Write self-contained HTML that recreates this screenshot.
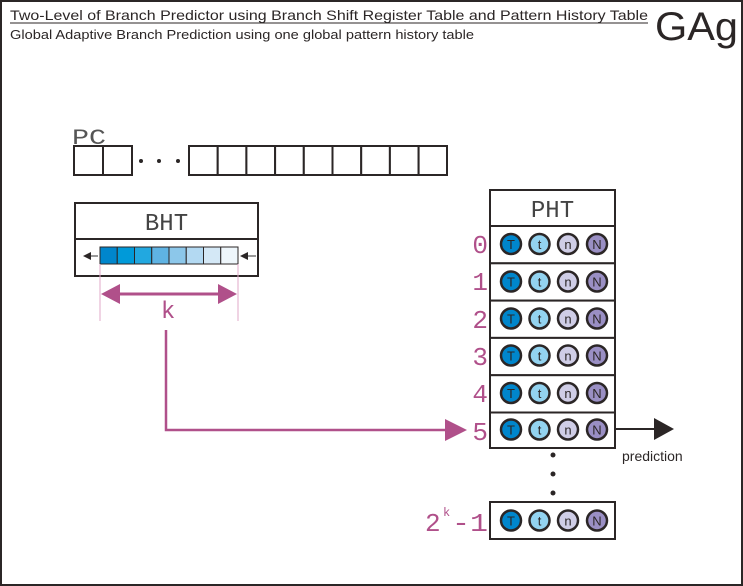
<!DOCTYPE html>
<html><head><style>html,body{margin:0;padding:0;background:#fff}svg{display:block}</style></head><body>
<svg width="743" height="586" viewBox="0 0 743 586" xmlns="http://www.w3.org/2000/svg" font-family="Liberation Sans, sans-serif">
<rect x="1" y="1" width="741" height="584" fill="#fff" stroke="#2b2626" stroke-width="2"/>
<text x="10" y="20" font-size="14" fill="#2b2626" textLength="638" lengthAdjust="spacingAndGlyphs">Two-Level of Branch Predictor using Branch Shift Register Table and Pattern History Table</text>
<line x1="10" y1="23" x2="648" y2="23" stroke="#2b2626" stroke-width="1"/>
<text x="10" y="39" font-size="13" fill="#2b2626" textLength="464" lengthAdjust="spacingAndGlyphs">Global Adaptive Branch Prediction using one global pattern history table</text>
<text x="655" y="40" font-size="40" fill="#2b2626" textLength="83" lengthAdjust="spacingAndGlyphs">GAg</text>

<text x="72" y="144" font-family="Liberation Mono, monospace" font-size="22" fill="#555" textLength="34" lengthAdjust="spacingAndGlyphs">PC</text>
<g fill="#fff" stroke="#2b2626" stroke-width="2">
<rect x="74" y="146" width="29" height="29"/><rect x="103" y="146" width="29" height="29"/>
<rect x="189" y="146" width="28.7" height="29"/><rect x="217.7" y="146" width="28.7" height="29"/><rect x="246.4" y="146" width="28.7" height="29"/><rect x="275.1" y="146" width="28.7" height="29"/><rect x="303.8" y="146" width="28.7" height="29"/><rect x="332.5" y="146" width="28.7" height="29"/><rect x="361.2" y="146" width="28.7" height="29"/><rect x="389.9" y="146" width="28.7" height="29"/><rect x="418.6" y="146" width="28.4" height="29"/>
</g>
<g fill="#2b2626"><circle cx="141" cy="161" r="2"/><circle cx="159" cy="161" r="2"/><circle cx="178" cy="161" r="2"/></g>

<rect x="75" y="203" width="183" height="73" fill="#fff" stroke="#2b2626" stroke-width="2"/>
<line x1="75" y1="239" x2="258" y2="239" stroke="#2b2626" stroke-width="2"/>
<text x="166.5" y="230" text-anchor="middle" font-family="Liberation Mono, monospace" font-size="24" fill="#444">BHT</text>
<g stroke="#2b2626" stroke-width="1">
<rect x="100" y="247" width="17.25" height="17" fill="#0086cc"/><rect x="117.25" y="247" width="17.25" height="17" fill="#009ad9"/><rect x="134.5" y="247" width="17.25" height="17" fill="#22a8e0"/><rect x="151.75" y="247" width="17.25" height="17" fill="#5fb3e3"/><rect x="169" y="247" width="17.25" height="17" fill="#8cc7ea"/><rect x="186.25" y="247" width="17.25" height="17" fill="#b3d9f2"/><rect x="203.5" y="247" width="17.25" height="17" fill="#d4e8f6"/><rect x="220.75" y="247" width="17.25" height="17" fill="#eef6fb"/>
</g>
<line x1="90" y1="256" x2="98" y2="256" stroke="#777" stroke-width="1.5"/><polygon points="83,256 91,252 91,260" fill="#2b2626"/>
<line x1="247" y1="256" x2="256" y2="256" stroke="#777" stroke-width="1.5"/><polygon points="240,256 248,252 248,260" fill="#2b2626"/>

<line x1="100" y1="264" x2="100" y2="321" stroke="#e0a8c8" stroke-width="1"/>
<line x1="238" y1="264" x2="238" y2="321" stroke="#e0a8c8" stroke-width="1"/>
<line x1="115" y1="294" x2="222" y2="294" stroke="#b0508a" stroke-width="3"/>
<polygon points="101,294 120,284 120,304" fill="#b0508a"/><polygon points="237,294 218,284 218,304" fill="#b0508a"/>
<text x="168" y="318" text-anchor="middle" font-size="24" fill="#b0508a">k</text>
<polyline points="166,330 166,430 448,430" fill="none" stroke="#b0508a" stroke-width="2.5"/>
<polygon points="467,430 445,419 445,441" fill="#b0508a"/>

<rect x="490" y="190" width="125" height="36" fill="#fff" stroke="#2b2626" stroke-width="2"/>
<text x="552.5" y="217" text-anchor="middle" font-family="Liberation Mono, monospace" font-size="24" fill="#444">PHT</text>
<g font-family="Liberation Mono, monospace" font-size="26" fill="#b0508a" text-anchor="end">
<text x="488" y="253">0</text><text x="488" y="290">1</text><text x="488" y="328">2</text><text x="488" y="365">3</text><text x="488" y="402">4</text><text x="488" y="440">5</text>
</g>
<g id="rows" stroke="#2b2626" stroke-width="2" fill="#fff">
<rect x="490" y="226" width="125" height="37.3"/><rect x="490" y="263.3" width="125" height="37.3"/><rect x="490" y="300.6" width="125" height="37.3"/><rect x="490" y="337.9" width="125" height="37.3"/><rect x="490" y="375.2" width="125" height="37.3"/><rect x="490" y="412.5" width="125" height="35.5"/>
<rect x="490" y="502" width="125" height="37"/>
</g>
<g stroke="#2b2626" stroke-width="2.5" font-size="13" text-anchor="middle">
<g transform="translate(0,244)"><circle cx="511" cy="0" r="10" fill="#0086cc"/><circle cx="539.5" cy="0" r="10" fill="#93d3f0"/><circle cx="568" cy="0" r="10" fill="#cfcde6"/><circle cx="597" cy="0" r="10" fill="#9a8fc4"/></g>
<g transform="translate(0,281.5)"><circle cx="511" cy="0" r="10" fill="#0086cc"/><circle cx="539.5" cy="0" r="10" fill="#93d3f0"/><circle cx="568" cy="0" r="10" fill="#cfcde6"/><circle cx="597" cy="0" r="10" fill="#9a8fc4"/></g>
<g transform="translate(0,318.5)"><circle cx="511" cy="0" r="10" fill="#0086cc"/><circle cx="539.5" cy="0" r="10" fill="#93d3f0"/><circle cx="568" cy="0" r="10" fill="#cfcde6"/><circle cx="597" cy="0" r="10" fill="#9a8fc4"/></g>
<g transform="translate(0,355.5)"><circle cx="511" cy="0" r="10" fill="#0086cc"/><circle cx="539.5" cy="0" r="10" fill="#93d3f0"/><circle cx="568" cy="0" r="10" fill="#cfcde6"/><circle cx="597" cy="0" r="10" fill="#9a8fc4"/></g>
<g transform="translate(0,393)"><circle cx="511" cy="0" r="10" fill="#0086cc"/><circle cx="539.5" cy="0" r="10" fill="#93d3f0"/><circle cx="568" cy="0" r="10" fill="#cfcde6"/><circle cx="597" cy="0" r="10" fill="#9a8fc4"/></g>
<g transform="translate(0,429.5)"><circle cx="511" cy="0" r="10" fill="#0086cc"/><circle cx="539.5" cy="0" r="10" fill="#93d3f0"/><circle cx="568" cy="0" r="10" fill="#cfcde6"/><circle cx="597" cy="0" r="10" fill="#9a8fc4"/></g>
<g transform="translate(0,520.5)"><circle cx="511" cy="0" r="10" fill="#0086cc"/><circle cx="539.5" cy="0" r="10" fill="#93d3f0"/><circle cx="568" cy="0" r="10" fill="#cfcde6"/><circle cx="597" cy="0" r="10" fill="#9a8fc4"/></g>
</g>
<g font-size="13" fill="#2b2626" text-anchor="middle">
<g><text x="511" y="249">T</text><text x="539.5" y="249">t</text><text x="568" y="249">n</text><text x="597" y="249">N</text></g>
<g><text x="511" y="286.5">T</text><text x="539.5" y="286.5">t</text><text x="568" y="286.5">n</text><text x="597" y="286.5">N</text></g>
<g><text x="511" y="323.5">T</text><text x="539.5" y="323.5">t</text><text x="568" y="323.5">n</text><text x="597" y="323.5">N</text></g>
<g><text x="511" y="360.5">T</text><text x="539.5" y="360.5">t</text><text x="568" y="360.5">n</text><text x="597" y="360.5">N</text></g>
<g><text x="511" y="398">T</text><text x="539.5" y="398">t</text><text x="568" y="398">n</text><text x="597" y="398">N</text></g>
<g><text x="511" y="434.5">T</text><text x="539.5" y="434.5">t</text><text x="568" y="434.5">n</text><text x="597" y="434.5">N</text></g>
<g><text x="511" y="525.5">T</text><text x="539.5" y="525.5">t</text><text x="568" y="525.5">n</text><text x="597" y="525.5">N</text></g>
</g>
<g fill="#2b2626"><circle cx="553" cy="455" r="2.5"/><circle cx="553" cy="474" r="2.5"/><circle cx="553" cy="493" r="2.5"/></g>
<line x1="615" y1="429" x2="657" y2="429" stroke="#2b2626" stroke-width="2"/>
<polygon points="674,429 654,418 654,440" fill="#2b2626"/>
<text x="622" y="461" font-size="14" fill="#2b2626">prediction</text>
<g font-family="Liberation Mono, monospace" fill="#b0508a">
<text x="425" y="531" font-size="26">2</text>
<text x="443" y="516" font-size="12">k</text>
<text x="452" y="531" font-size="26" textLength="36" lengthAdjust="spacingAndGlyphs">-1</text>
</g>
</svg>
</body></html>
